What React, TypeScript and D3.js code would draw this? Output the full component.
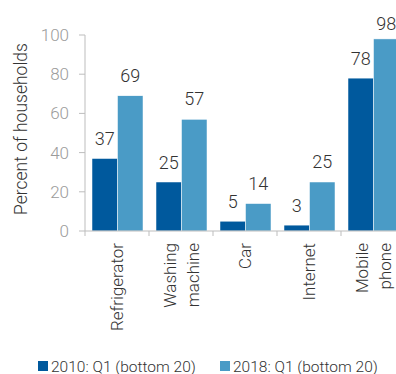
import React from "react";
import * as d3 from "d3";

const categories: string[][] = [["Refrigerator"], ["Washing", "machine"], ["Car"], ["Internet"], ["Mobile", "phone"]];
const series2010: number[] = [37, 25, 5, 3, 78];
const series2018: number[] = [69, 57, 14, 25, 98];
const seriesNames: string[] = ["2010: Q1 (bottom 20)", "2018: Q1 (bottom 20)"];
const seriesColors: string[] = ["#00599d", "#4a9bc6"];
const yTicks: number[] = [0, 20, 40, 60, 80, 100];
const yTitle = "Percent of households";

const W = 396, H = 374;
const left = 85, top = 35, bottom = 231, bandW = 64;
const FONT = "Roboto, 'Noto Sans', sans-serif";

export default function App() {
  const keys = categories.map((c) => c.join(" "));
  const x = d3.scaleBand<string>().domain(keys).range([left, left + bandW * keys.length]);
  const xs = d3.scaleBand<number>().domain([0, 1]).range([7, 58]);
  const y = d3.scaleLinear().domain([0, 100]).range([bottom, top]);
  const series = [series2010, series2018];
  return (
    <svg width={W} height={H} style={{ position: "absolute", left: 0, top: 0, background: "#fff" }} fontFamily={FONT}>
      {/* y axis */}
      <line x1={left} x2={left} y1={top} y2={bottom} stroke="#bdbdbd" strokeWidth={1} />
      {yTicks.map((t) => (
        <g key={t}>
          <line x1={left - 6} x2={left} y1={y(t)} y2={y(t)} stroke="#bdbdbd" />
          <text x={69} y={y(t)} dy="0.35em" textAnchor="end" fontSize={17} fill="#9b9b9b" fontWeight={300}>{t}</text>
        </g>
      ))}
      <text transform={`translate(27,${(top + bottom) / 2 - 4}) rotate(-90)`} textAnchor="middle" fontSize={17.5} fill="#333" fontWeight={300}>{yTitle}</text>
      {/* bars */}
      {keys.map((k, i) => (
        <g key={k}>
          {series.map((s, j) => {
            const bx = (x(k) as number) + (xs(j) as number);
            const bw = xs.bandwidth();
            const by = y(s[i]);
            const ly = j === 0 ? by - 13.5 : Math.max(by - 14, 30);
            return (
              <g key={j}>
                <rect x={bx} y={by} width={bw} height={bottom - by} fill={seriesColors[j]} stroke="#fff" strokeWidth={0.5} />
                <text x={bx + bw / 2} y={ly} textAnchor="middle" fontSize={18} fill="#333" fontWeight={300}>{s[i]}</text>
              </g>
            );
          })}
        </g>
      ))}
      {/* x axis */}
      <line x1={left} x2={W} y1={bottom} y2={bottom} stroke="#bdbdbd" />
      {keys.map((k, i) => (
        <line key={"t" + k} x1={x(k) as number} x2={x(k) as number} y1={bottom} y2={bottom + 5} stroke="#bdbdbd" />
      ))}
      {categories.map((lines, i) => {
        const cx = (x(keys[i]) as number) + x.bandwidth() / 2;
        const n = lines.length;
        return lines.map((ln, li) => {
          const off = (li - (n - 1) / 2) * 23 + 6;
          return (
            <text key={ln} transform={`translate(${cx + off},${bottom + 12}) rotate(-90)`} textAnchor="end" fontSize={17} fill="#333" fontWeight={300}>{ln}</text>
          );
        });
      })}
      {/* legend */}
      {seriesNames.map((nm, j) => {
        const lx = j === 0 ? 38 : 220;
        return (
          <g key={nm}>
            <rect x={lx} y={361} width={10} height={10} fill={seriesColors[j]} />
            <text x={lx + 13} y={371.5} fontSize={15.5} fill="#333" fontWeight={300}>{nm}</text>
          </g>
        );
      })}
    </svg>
  );
}
